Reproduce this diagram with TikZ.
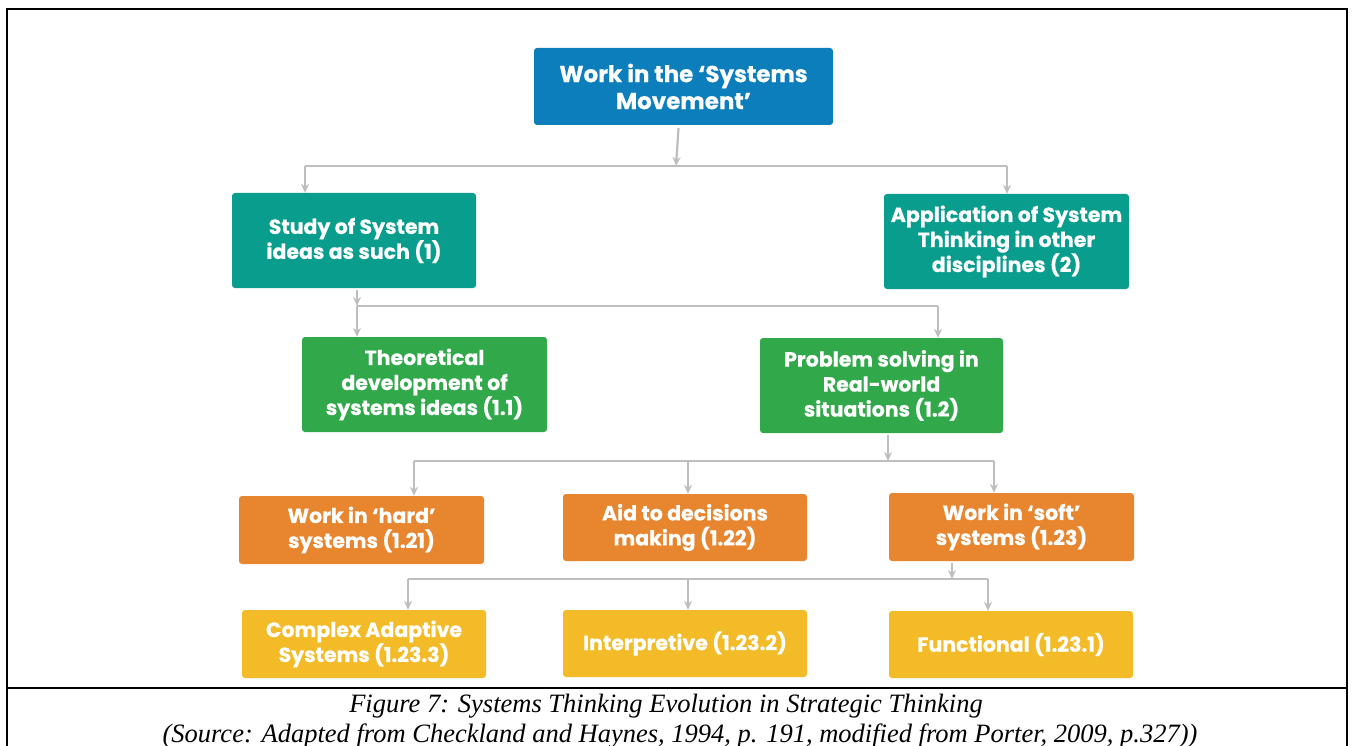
\documentclass[tikz,border=0pt]{standalone}
\usepackage{fontspec}
\setmainfont{Liberation Serif}
\newfontfamily\boxfont{Poppins}[BoldFeatures={FakeBold=0.6}]
\usetikzlibrary{arrows.meta}
\definecolor{cblue}{HTML}{0B7EBB}
\definecolor{cteal}{HTML}{089D8C}
\definecolor{cgreen}{HTML}{31A94A}
\definecolor{corange}{HTML}{E8852F}
\definecolor{cyellow}{HTML}{F2BB27}
\definecolor{cline}{HTML}{BEBEBE}
\tikzset{
  box/.style={rectangle, rounded corners=3pt, inner sep=0pt, align=center,
    text=white, font=\boxfont\bfseries\fontsize{20.5}{25}\selectfont},
  link/.style={draw=cline, line width=2.2pt},
  arr/.style={link, -{Stealth[length=9pt,width=8pt]}},
  frame/.style={line width=2.6pt, line cap=rect},
  captext/.style={font=\itshape\fontsize{26.5}{29}\selectfont, inner sep=0pt}
}
\begin{document}
\begin{tikzpicture}[x=1pt,y=-1pt]
\useasboundingbox (0,0) rectangle (1354,746);
\fill[white] (0,0) rectangle (1354,746);

% outer frame and caption separator
\draw[frame] (7,746) -- (7,9) -- (1347,9) -- (1347,746);
\draw[frame] (7,688) -- (190,688);
\draw[line width=1.2pt] (190,688) -- (1168,688);
\draw[frame] (1168,688) -- (1347,688);

% boxes
\node[box, fill=cblue, minimum width=299pt, minimum height=77pt,
  font=\boxfont\bfseries\fontsize{23}{27}\selectfont] (top) at (683.5,86.5)
  {Work in the ‘Systems\\Movement’};
\node[box, fill=cteal, minimum width=244pt, minimum height=95pt] (s1) at (354,240.5)
  {Study of System\\ideas as such (1)};
\node[box, fill=cteal, minimum width=245pt, minimum height=95pt] (s2) at (1006.5,241.5)
  {Application of System\\Thinking in other\\disciplines (2)};
\node[box, fill=cgreen, minimum width=245pt, minimum height=95pt] (g1) at (424.5,384.5)
  {Theoretical\\development of\\systems ideas (1.1)};
\node[box, fill=cgreen, minimum width=243pt, minimum height=95pt] (g2) at (881.5,385.5)
  {Problem solving in\\Real-world\\situations (1.2)};
\node[box, fill=corange, minimum width=245pt, minimum height=68pt] (o1) at (361.5,530)
  {Work in ‘hard’\\systems (1.21)};
\node[box, fill=corange, minimum width=244pt, minimum height=67pt] (o2) at (685,527.5)
  {Aid to decisions\\making (1.22)};
\node[box, fill=corange, minimum width=245pt, minimum height=68pt] (o3) at (1011.5,527)
  {Work in ‘soft’\\systems (1.23)};
\node[box, fill=cyellow, minimum width=244pt, minimum height=68pt] (y1) at (364,644)
  {Complex Adaptive\\Systems (1.23.3)};
\node[box, fill=cyellow, minimum width=244pt, minimum height=67pt] (y2) at (685,643.5)
  {Interpretive (1.23.2)};
\node[box, fill=cyellow, minimum width=244pt, minimum height=67pt] (y3) at (1011,644.5)
  {Functional (1.23.1)};

% bus junctions
\coordinate (j1) at (676,166);
\coordinate (j1l) at (305,166);
\coordinate (j1r) at (1007,166);
\coordinate (j2) at (357,306);
\coordinate (j2r) at (938,306);
\coordinate (j3) at (888,461);
\coordinate (j3l) at (414,461);
\coordinate (j3m) at (688,461);
\coordinate (j3r) at (994,461);
\coordinate (j4) at (952,579);
\coordinate (j4l) at (408,579);
\coordinate (j4m) at (688,579);
\coordinate (j4r) at (988,579);

% level 1
\draw[arr] ([xshift=-5pt,yshift=-3pt]top.south) -- (j1);
\draw[link] (j1l) -- (j1r);
\draw[arr] (j1l) -- (j1l |- s1.north);
\draw[arr] (j1r) -- (j1r |- s2.north);
% level 2
\draw[arr] ([yshift=-2pt]s1.south -| j2) -- (j2);
\draw[link] (j2) -- (j2r);
\draw[arr] (j2) -- (j2 |- g1.north);
\draw[arr] (j2r) -- (j2r |- g2.north);
% level 3
\draw[arr] ([yshift=-2pt]g2.south -| j3) -- (j3);
\draw[link] (j3l) -- (j3r);
\draw[arr] (j3l) -- (j3l |- o1.north);
\draw[arr] (j3m) -- (j3m |- o2.north);
\draw[arr] (j3r) -- (j3r |- o3.north);
% level 4
\draw[arr] ([yshift=-2pt]o3.south -| j4) -- (j4);
\draw[link] (j4l) -- (j4r);
\draw[arr] (j4l) -- (j4l |- y1.north);
\draw[arr] (j4m) -- (j4m |- y2.north);
\draw[arr] (j4r) -- (j4r |- y3.north);

% caption
\node[captext] (cap1) at (666,706)
  {Figure 7: Systems Thinking Evolution in Strategic Thinking};
\node[captext] (cap2) at (680,736)
  {(Source: Adapted from Checkland and Haynes, 1994, p. 191, modified from Porter, 2009, p.327))};
\end{tikzpicture}
\end{document}
